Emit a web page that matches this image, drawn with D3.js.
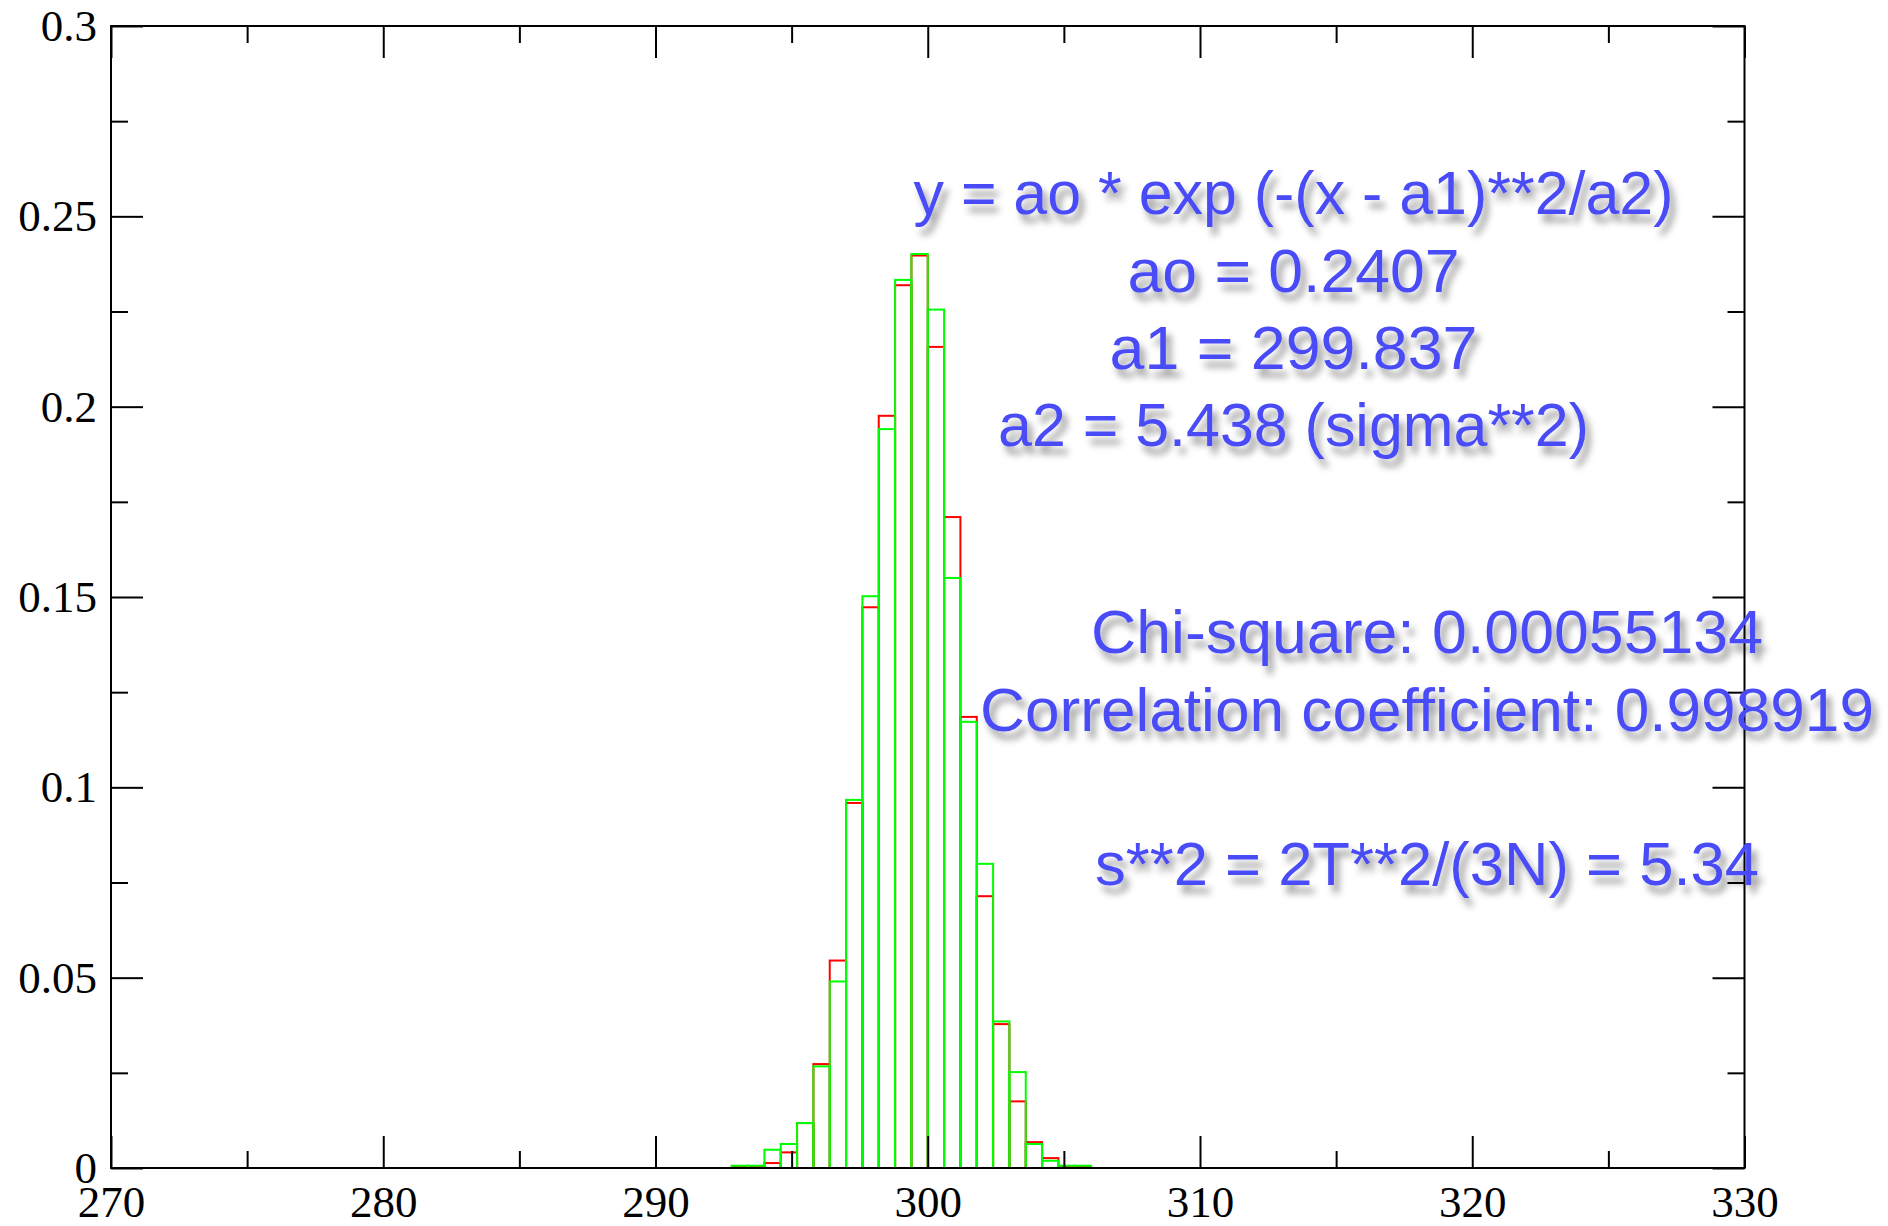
<!DOCTYPE html>
<html>
<head>
<meta charset="utf-8">
<script src="https://cdn.jsdelivr.net/npm/d3@7"></script>
<style>
  html, body { margin: 0; padding: 0; background: #ffffff; }
  svg { display: block; }
</style>
</head>
<body>
<script>
// ---------------- DATA ----------------
// histogram bin edges (x units)
const binEdges = [292.8, 293.4, 294.0, 294.6, 295.2, 295.8, 296.4, 297.0, 297.6, 298.2,
                  298.8, 299.4, 300.0, 300.6, 301.2, 301.8, 302.4, 303.0, 303.6, 304.2,
                  304.8, 305.4, 306.0];
// red series (drawn underneath)
const redValues = [0.0004, 0.0004, 0.0013, 0.0041, 0.0118, 0.0273, 0.0545, 0.0959, 0.1473, 0.1976,
                   0.2319, 0.2397, 0.2157, 0.1710, 0.1185, 0.0714, 0.0378, 0.0175, 0.0068, 0.0026,
                   0.0004, 0.0004];
// green series (drawn on top)
const greenValues = [0.0006, 0.0006, 0.0048, 0.0063, 0.0118, 0.0267, 0.0490, 0.0967, 0.1502, 0.1941,
                     0.2333, 0.2401, 0.2255, 0.1550, 0.1172, 0.0799, 0.0385, 0.0252, 0.0063, 0.0019,
                     0.0006, 0.0006];

const xDomain = [270, 330];
const yDomain = [0, 0.3];
const xMajorTicks = [270, 280, 290, 300, 310, 320, 330];
const xTickLabels = ["270", "280", "290", "300", "310", "320", "330"];
const xMinorTicks = [275, 285, 295, 305, 315, 325];
const yMajorTicks = [0, 0.05, 0.1, 0.15, 0.2, 0.25, 0.3];
const yTickLabels = ["0", "0.05", "0.1", "0.15", "0.2", "0.25", "0.3"];
const yMinorTicks = [0.025, 0.075, 0.125, 0.175, 0.225, 0.275];

const fitLines = [
  "y = ao * exp (-(x - a1)**2/a2)",
  "ao = 0.2407",
  "a1 = 299.837",
  "a2 = 5.438 (sigma**2)"
];
const statLines = [
  "Chi-square: 0.00055134",
  "Correlation coefficient: 0.998919",
  "s**2 = 2T**2/(3N) = 5.34"
];

// ---------------- LAYOUT ----------------
const W = 1888, H = 1226;
const L = 111, R = 1744.5, T = 26, B = 1168;
const MAJOR = 32, MINOR = 17;

const svg = d3.select("body").append("svg")
  .attr("width", W).attr("height", H)
  .attr("viewBox", `0 0 ${W} ${H}`);

svg.append("rect").attr("width", W).attr("height", H).attr("fill", "#ffffff");

const defs = svg.append("defs");
const f = defs.append("filter").attr("id", "shadow")
  .attr("x", "-10%").attr("y", "-40%").attr("width", "125%").attr("height", "190%");
f.append("feDropShadow")
  .attr("dx", 5).attr("dy", 8).attr("stdDeviation", 3.6)
  .attr("flood-color", "#000").attr("flood-opacity", 0.4);

const x = d3.scaleLinear().domain(xDomain).range([L, R]);
const y = d3.scaleLinear().domain(yDomain).range([B, T]);

// ---------------- HISTOGRAMS ----------------
function drawHist(values, color) {
  const bins = values.map((v, i) => ({ x0: binEdges[i], x1: binEdges[i + 1], v }));
  svg.append("g").selectAll("rect").data(bins).join("rect")
    .attr("x", d => x(d.x0))
    .attr("y", d => y(d.v))
    .attr("width", d => x(d.x1) - x(d.x0))
    .attr("height", d => y(0) - y(d.v))
    .attr("fill", "none")
    .attr("stroke", color)
    .attr("stroke-width", 2);
}
drawHist(redValues, "#ff0000");
drawHist(greenValues, "#00ff00");

// ---------------- AXES ----------------
function styleAxis(g) {
  g.select(".domain").remove();
  g.selectAll(".tick line").attr("stroke", "#000").attr("stroke-width", 2);
  g.selectAll(".tick text")
    .attr("fill", "#000")
    .style("font-family", "'Liberation Serif', 'Times New Roman', serif")
    .style("font-size", "45px");
}

// bottom
svg.append("g").attr("transform", `translate(0,${B})`)
  .call(d3.axisBottom(x).tickValues(xMajorTicks).tickSize(-MAJOR).tickPadding(17)
    .tickFormat((d, i) => xTickLabels[i]))
  .call(styleAxis);
svg.append("g").attr("transform", `translate(0,${B})`)
  .call(d3.axisBottom(x).tickValues(xMinorTicks).tickSize(-MINOR).tickFormat(""))
  .call(styleAxis);
// top
svg.append("g").attr("transform", `translate(0,${T})`)
  .call(d3.axisTop(x).tickValues(xMajorTicks).tickSize(-MAJOR).tickFormat(""))
  .call(styleAxis);
svg.append("g").attr("transform", `translate(0,${T})`)
  .call(d3.axisTop(x).tickValues(xMinorTicks).tickSize(-MINOR).tickFormat(""))
  .call(styleAxis);
// left
svg.append("g").attr("transform", `translate(${L},0)`)
  .call(d3.axisLeft(y).tickValues(yMajorTicks).tickSize(-MAJOR).tickPadding(14)
    .tickFormat((d, i) => yTickLabels[i]))
  .call(styleAxis);
svg.append("g").attr("transform", `translate(${L},0)`)
  .call(d3.axisLeft(y).tickValues(yMinorTicks).tickSize(-MINOR).tickFormat(""))
  .call(styleAxis);
// right
svg.append("g").attr("transform", `translate(${R},0)`)
  .call(d3.axisRight(y).tickValues(yMajorTicks).tickSize(-MAJOR).tickFormat(""))
  .call(styleAxis);
svg.append("g").attr("transform", `translate(${R},0)`)
  .call(d3.axisRight(y).tickValues(yMinorTicks).tickSize(-MINOR).tickFormat(""))
  .call(styleAxis);

// frame
svg.append("rect")
  .attr("x", L).attr("y", T).attr("width", R - L).attr("height", B - T)
  .attr("fill", "none").attr("stroke", "#000").attr("stroke-width", 2);

// ---------------- ANNOTATIONS ----------------
const textColor = "#4a4cf6";
const fitLayout = { cx: 1293.5, baselines: [214, 291.7, 369.3, 446], widths: [760, 332, 368, 591] };
const statLayout = { cx: 1427, baselines: [652.7, 730.7, 885], widths: [672, 894, 664] };

function drawLines(lines, lay) {
  svg.append("g").attr("filter", "url(#shadow)")
    .selectAll("text").data(lines).join("text")
    .attr("x", lay.cx)
    .attr("y", (d, i) => lay.baselines[i])
    .attr("text-anchor", "middle")
    .attr("textLength", (d, i) => lay.widths[i])
    .attr("lengthAdjust", "spacingAndGlyphs")
    .attr("fill", textColor)
    .style("font-family", "'Liberation Sans', Arial, Helvetica, sans-serif")
    .style("font-size", "62px")
    .text(d => d);
}
drawLines(fitLines, fitLayout);
drawLines(statLines, statLayout);
</script>
</body>
</html>
